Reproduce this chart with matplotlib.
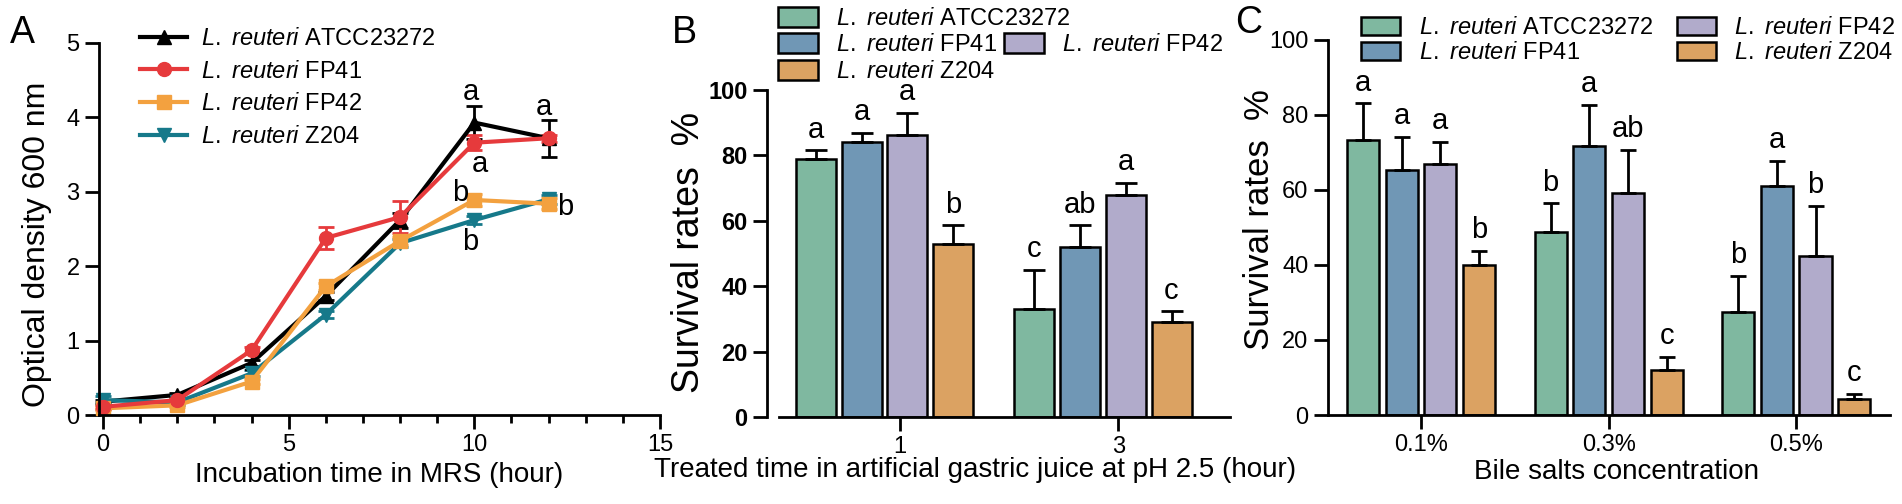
import matplotlib
matplotlib.use('Agg')
import matplotlib.pyplot as plt
from matplotlib.patches import Patch
from matplotlib.lines import Line2D
import numpy as np

plt.rcParams['font.family'] = ['Liberation Sans', 'DejaVu Sans']
plt.rcParams['mathtext.fontset'] = 'custom'
plt.rcParams['mathtext.it'] = 'Liberation Sans:italic'
plt.rcParams['mathtext.rm'] = 'Liberation Sans'

strains = ['ATCC23272', 'FP41', 'FP42', 'Z204']
strain_labels = [r'$\it{L.\ reuteri}$ ' + s for s in strains]

# panel A: growth curves
hours = [0, 2, 4, 6, 8, 10, 12]
od_atcc = [0.18, 0.27, 0.70, 1.60, 2.62, 3.93, 3.72]
od_fp41 = [0.11, 0.20, 0.87, 2.38, 2.66, 3.66, 3.72]
od_fp42 = [0.09, 0.13, 0.45, 1.73, 2.34, 2.89, 2.84]
od_z204 = [0.20, 0.17, 0.56, 1.35, 2.31, 2.62, 2.90]
err_atcc = [0.02, 0.03, 0.04, 0.05, 0.10, 0.22, 0.25]
err_fp41 = [0.03, 0.03, 0.04, 0.15, 0.22, 0.10, 0.05]
err_fp42 = [0.02, 0.02, 0.04, 0.05, 0.05, 0.08, 0.07]
err_z204 = [0.05, 0.03, 0.04, 0.05, 0.05, 0.05, 0.06]
letters_a_x = [9.9, 11.86, 10.16, 9.62, 9.9, 12.45]
letters_a_y = [4.34, 4.14, 3.38, 2.98, 2.32, 2.79]
letters_a = ['a', 'a', 'a', 'b', 'b', 'b']

# panel B: gastric juice
gastric_times = ['1', '3']
gastric_vals = [[78.9, 33.0], [84.0, 52.1], [86.3, 67.8], [53.0, 29.2]]
gastric_err = [[2.6, 11.9], [3.0, 6.5], [6.8, 3.8], [5.6, 3.1]]
gastric_letters = [['a', 'c'], ['a', 'ab'], ['a', 'a'], ['b', 'c']]

# panel C: bile salts
bile_conc = ['0.1%', '0.3%', '0.5%']
bile_vals = [[73.2, 48.7, 27.4], [65.2, 71.8, 61.1], [66.8, 59.3, 42.4], [40.0, 12.0, 4.4]]
bile_err = [[9.9, 7.7, 9.7], [9.0, 10.9, 6.7], [6.1, 11.4, 13.3], [3.8, 3.6, 1.2]]
bile_letters = [['a', 'b', 'b'], ['a', 'a', 'a'], ['a', 'ab', 'b'], ['b', 'c', 'c']]

line_colors = ['black', '#e63a3c', '#f3a13f', '#16798a']
line_markers = ['^', 'o', 's', 'v']
bar_colors = ['#7fb8a0', '#7097b5', '#b1abcb', '#dba262']

W, H = 1902, 504
fig = plt.figure(figsize=(W / 100, H / 100), dpi=100)


def add_ax(left, top, right, bottom):
    return fig.add_axes([left / W, 1 - bottom / H, (right - left) / W, (bottom - top) / H])


def style_ax(ax):
    for s in ['top', 'right']:
        ax.spines[s].set_visible(False)
    for s in ['left', 'bottom']:
        ax.spines[s].set_linewidth(2)
    ax.tick_params(width=2, length=10, labelsize=17, pad=4)


def px_to_ax(ax, x, y):
    disp = fig.transFigure.transform((x / W, 1 - y / H))
    return ax.transAxes.inverted().transform(disp)


# ---------------- A ----------------
axA = add_ax(99, 43, 660, 415)
style_ax(axA)
series = [od_atcc, od_z204, od_fp42, od_fp41]
errs = [err_atcc, err_z204, err_fp42, err_fp41]
order = [0, 3, 2, 1]
for vals, e, k in zip(series, errs, order):
    axA.errorbar(hours, vals, yerr=e, color=line_colors[k], marker=line_markers[k],
                 markersize=10, lw=3, elinewidth=2, capsize=6, capthick=2, clip_on=False)
for x, y, t in zip(letters_a_x, letters_a_y, letters_a):
    axA.text(x, y, t, ha='center', va='center', fontsize=21)
axA.set_xlim(-0.11, 15)
axA.set_ylim(0, 5)
axA.set_xticks([0, 5, 10, 15])
axA.set_xticks(np.arange(0, 16, 1), minor=True)
axA.tick_params(axis='x', which='minor', width=2, length=6)
axA.set_yticks([0, 1, 2, 3, 4, 5])
axA.set_xlabel('Incubation time in MRS (hour)', fontsize=20, labelpad=4)
axA.set_ylabel('Optical density 600 nm', fontsize=23)
axA.yaxis.set_label_coords(*px_to_ax(axA, 52, 244))
handlesA = [Line2D([], [], color=line_colors[k], marker=line_markers[k], markersize=10, lw=3)
            for k in range(4)]
axA.legend(handlesA, strain_labels, loc='upper left', bbox_to_anchor=(140 / W, 1 - 28 / H),
           bbox_transform=fig.transFigure, frameon=False, fontsize=17, handlelength=2.0,
           handletextpad=0.6, labelspacing=0.45, borderpad=0, borderaxespad=0)


def bar_panel(ax, groups, vals, err, letters, tick_shift, pitch, width, capsize):
    style_ax(ax)
    pos = np.arange(len(groups))
    for i in range(4):
        xs = pos - tick_shift + (i - 1.5) * pitch
        ax.bar(xs, vals[i], width=width, color=bar_colors[i], edgecolor='black', linewidth=1.8,
               yerr=[np.zeros(len(groups)), err[i]], capsize=capsize,
               error_kw=dict(elinewidth=2, capthick=2, ecolor='black'), zorder=2)
        for x, v, e, t in zip(xs, vals[i], err[i], letters[i]):
            ax.annotate(t, (x, v + e), xytext=(0, 15), textcoords='offset points',
                        ha='center', va='center', fontsize=21)
    ax.set_xticks(pos)
    ax.set_xticklabels(groups)
    ax.set_ylim(0, 100)
    ax.set_yticks(np.arange(0, 101, 20))


# ---------------- B ----------------
axB = add_ax(767, 90, 1230, 417)
bar_panel(axB, gastric_times, gastric_vals, gastric_err, gastric_letters, 0.07, 0.209, 0.183, 8)
axB.set_xlim(-0.607, 1.511)
axB.spines['bottom'].set_bounds(-0.553, 1.511)
for lab in axB.get_yticklabels():
    lab.set_fontweight('bold')
axB.set_xlabel('Treated time in artificial gastric juice at pH 2.5 (hour)', fontsize=20)
axB.xaxis.set_label_coords(*px_to_ax(axB, 975, 457))
axB.set_ylabel('Survival rates  %', fontsize=27)
axB.yaxis.set_label_coords(*px_to_ax(axB, 707, 252))
hB = [Patch(facecolor=bar_colors[i], edgecolor='black', linewidth=1.8) for i in range(4)]
legB1 = axB.legend([hB[0], hB[1], hB[3]], [strain_labels[0], strain_labels[1], strain_labels[3]],
                   loc='upper left', bbox_to_anchor=(778 / W, 1 - 7 / H),
                   bbox_transform=fig.transFigure, frameon=False, fontsize=17,
                   handlelength=1.7, handleheight=0.9, handletextpad=0.75, labelspacing=0.15,
                   borderpad=0, borderaxespad=0)
axB.add_artist(legB1)
axB.legend([hB[2]], [strain_labels[2]], loc='upper left', bbox_to_anchor=(1004 / W, 1 - 33 / H),
           bbox_transform=fig.transFigure, frameon=False, fontsize=17,
           handlelength=1.7, handleheight=0.9, handletextpad=0.75, borderpad=0, borderaxespad=0)

# ---------------- C ----------------
axC = add_ax(1328, 40, 1890, 415)
bar_panel(axC, bile_conc, bile_vals, bile_err, bile_letters, 0.0, 0.206, 0.171, 6)
axC.set_xlim(-0.496, 2.50)
axC.set_xlabel('Bile salts concentration', fontsize=20)
axC.xaxis.set_label_coords(*px_to_ax(axC, 1616, 459))
axC.set_ylabel('Survival rates  %', fontsize=25)
axC.yaxis.set_label_coords(*px_to_ax(axC, 1276, 220))
axC.legend(hB, strain_labels, ncol=2, loc='upper left', bbox_to_anchor=(1361 / W, 1 - 17 / H),
           bbox_transform=fig.transFigure, frameon=False, fontsize=17,
           handlelength=1.65, handleheight=0.8, handletextpad=0.8, labelspacing=0.12,
           columnspacing=1.0, borderpad=0, borderaxespad=0)

fig.text(22 / W, 1 - 33 / H, 'A', fontsize=27, ha='center', va='center')
fig.text(684 / W, 1 - 33 / H, 'B', fontsize=27, ha='center', va='center')
fig.text(1249 / W, 1 - 23 / H, 'C', fontsize=27, ha='center', va='center')

fig.savefig('out.png', dpi=100)
